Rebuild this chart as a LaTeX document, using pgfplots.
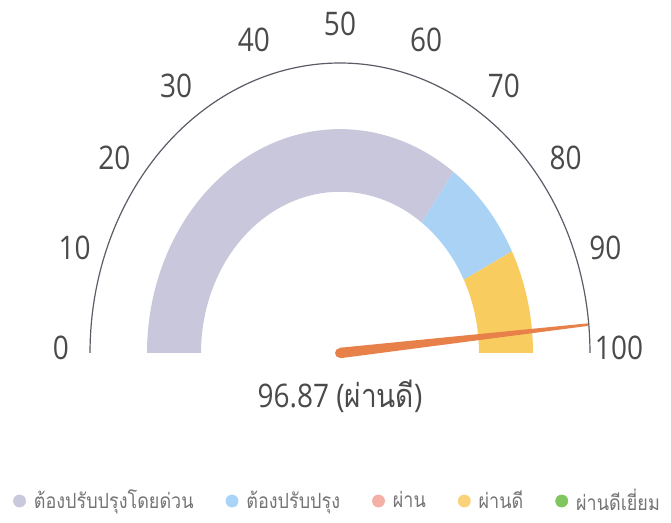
\documentclass[border=0pt]{standalone}
\usepackage{fontspec}
\setmainfont{Open Sans}
\newfontfamily\thaifont[Script=Thai]{Loma}
\usepackage{graphicx}
\usepackage{pgfplots}
\usepackage{pgfplotstable}
\pgfplotsset{compat=1.18}
\usepgfplotslibrary{fillbetween}
\definecolor{bandgray}{HTML}{C9C7DB}
\definecolor{bandblue}{HTML}{AAD2F5}
\definecolor{bandyellow}{HTML}{F9CC5F}
\definecolor{needlec}{HTML}{E8804A}
\definecolor{arcc}{HTML}{5A5C66}
\definecolor{lab}{HTML}{4A4A4A}
\definecolor{legtext}{HTML}{747474}
\definecolor{c1}{HTML}{C9C9DD}
\definecolor{c2}{HTML}{A9D3F7}
\definecolor{c3}{HTML}{F4AFA6}
\definecolor{c4}{HTML}{F9D27A}
\definecolor{c5}{HTML}{7FC65E}
\newcommand{\st}[1]{\scalebox{1}[1.16]{#1}}

% gauge tick values (r = label radius)
\pgfplotstableread{
v r
0 279
10 279
20 279
30 279
40 279
50 279
60 279
70 279
80 279
90 279
100 279
}\ticktab

% needle outline: r = distance along needle, w = half width
\pgfplotstableread{
r w
0 4.5
249 1.1
249 -1.1
0 -4.5
}\needletab

\def\gval{96.87}

\begin{document}
\begin{tikzpicture}
\pgfmathsetmacro\nang{180*(1-\gval/100)}
\begin{axis}[
  x=0.5pt, y=0.58pt,
  xmin=-340, xmax=331, ymin=-146.55, ymax=304.31,
  hide axis, clip=false,
  legend columns=5,
  legend style={at={(0.5045,0.042)}, anchor=center, draw=none, fill=none,
    font=\fontsize{9}{11}\selectfont\thaifont, text=legtext,
    /tikz/every odd column/.append style={column sep=2pt},
    /tikz/every even column/.append style={column sep=14pt}},
  mycirc/.style={legend image code/.code={\fill[#1] (0pt,0pt) circle (3pt);}},
]
\addlegendimage{mycirc=c1}
\addlegendentry{\st{ต้องปรับปรุงโดยด่วน}}
\addlegendimage{mycirc=c2}
\addlegendentry{\st{ต้องปรับปรุง}}
\addlegendimage{mycirc=c3}
\addlegendentry{\st{ผ่าน}}
\addlegendimage{mycirc=c4}
\addlegendentry{\st{ผ่านดี}}
\addlegendimage{mycirc=c5}
\addlegendentry{\st{ผ่านดีเยี่ยม}}

% band 0-70
\addplot[name path=o1, draw=none, forget plot, domain=0:70, samples=90, variable=\v]
  ({193*cos(180*(1-\v/100))},{193*sin(180*(1-\v/100))});
\addplot[name path=i1, draw=none, forget plot, domain=0:70, samples=90, variable=\v]
  ({139*cos(180*(1-\v/100))},{139*sin(180*(1-\v/100))});
\addplot[bandgray, forget plot] fill between[of=o1 and i1];
% band 70-85
\addplot[name path=o2, draw=none, forget plot, domain=70:85, samples=30, variable=\v]
  ({193*cos(180*(1-\v/100))},{193*sin(180*(1-\v/100))});
\addplot[name path=i2, draw=none, forget plot, domain=70:85, samples=30, variable=\v]
  ({139*cos(180*(1-\v/100))},{139*sin(180*(1-\v/100))});
\addplot[bandblue, forget plot] fill between[of=o2 and i2];
% band 85-100
\addplot[name path=o3, draw=none, forget plot, domain=85:100, samples=30, variable=\v]
  ({193*cos(180*(1-\v/100))},{193*sin(180*(1-\v/100))});
\addplot[name path=i3, draw=none, forget plot, domain=85:100, samples=30, variable=\v]
  ({139*cos(180*(1-\v/100))},{139*sin(180*(1-\v/100))});
\addplot[bandyellow, forget plot] fill between[of=o3 and i3];

% outer scale arc
\addplot[arcc, line width=0.6pt, forget plot, domain=0:100, samples=160, variable=\v]
  ({250*cos(180*(1-\v/100))},{250*sin(180*(1-\v/100))});

% tick labels
\addplot[draw=none, forget plot, point meta=explicit symbolic,
  nodes near coords={\st{\pgfplotspointmeta}},
  every node near coord/.append style={anchor=center, text=lab, font=\fontsize{14}{16}\selectfont}]
  table[x expr={\thisrow{r}*cos(180*(1-\thisrow{v}/100))},
        y expr={\thisrow{r}*sin(180*(1-\thisrow{v}/100))+4.3}, meta=v] {\ticktab};

% needle
\addplot[fill=needlec, draw=none, forget plot]
  table[x expr={\thisrow{r}*cos(\nang)-\thisrow{w}*sin(\nang)},
        y expr={\thisrow{r}*sin(\nang)+\thisrow{w}*cos(\nang)}] {\needletab} -- cycle;
\addplot[only marks, mark=*, mark size=2.25pt, color=needlec, forget plot] coordinates {(0,0)};

\node[anchor=base, text=lab, font=\fontsize{14}{16}\selectfont] at (axis cs:0,-46.6)
  {\st{96.87 ({\thaifont ผ่านดี})}};

\coordinate (SW) at (rel axis cs:0,0);
\coordinate (NE) at (rel axis cs:1,1);
\end{axis}
\pgfresetboundingbox
\path[use as bounding box] (SW) rectangle (NE);
\end{tikzpicture}
\end{document}
